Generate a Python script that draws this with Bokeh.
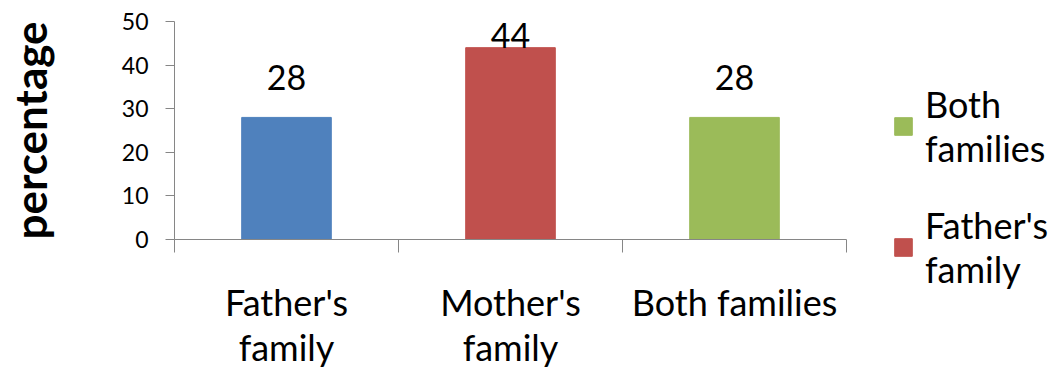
from bokeh.plotting import figure
from bokeh.models import Range1d, FixedTicker, Legend, LegendItem, ColumnDataSource
from bokeh.core.properties import value
from bokeh.embed import file_html
from bokeh.resources import INLINE

categories = ["Father's family", "Mother's family", "Both families"]
tick_labels = ["Father's\nfamily", "Mother's\nfamily", "Both families"]
percentages = [28, 44, 28]
bar_colors = ["#4F81BD", "#C0504D", "#9BBB59"]
legend_labels = ["Both\nfamilies", "Father's\nfamily"]
legend_rows = [2, 1]
y_ticks = [0, 10, 20, 30, 40, 50]
y_title = "percentage"

FONT = "Lato"
n = len(categories)
positions = list(range(n))
boundaries = [i - 0.5 for i in range(n + 1)]
label_y = [min(v + 6.2, 44.0) for v in percentages]

src = ColumnDataSource(dict(x=positions, top=percentages, color=bar_colors,
                            ly=label_y, txt=[str(v) for v in percentages]))

p = figure(frame_width=672, frame_height=218, x_range=Range1d(-0.5, n - 0.5), y_range=Range1d(0, 50),
           output_backend="svg", toolbar_location=None,
           min_border_left=173, min_border_right=10, min_border_top=21, min_border_bottom=131)
p.outline_line_color = None
p.xgrid.visible = False
p.ygrid.visible = False

bars = p.vbar(x="x", top="top", width=0.4, color="color", source=src)
p.text(x="x", y="ly", text="txt", source=src, text_align="center", text_baseline="bottom",
       text_font=value(FONT), text_font_size="34px", text_color="#000000")

ax = p.xaxis[0]
ax.ticker = FixedTicker(ticks=positions, minor_ticks=boundaries)
ax.major_label_overrides = {i: t for i, t in zip(positions, tick_labels)}
ax.major_tick_out = 0
ax.major_tick_in = 0
ax.minor_tick_out = 13
ax.minor_tick_in = 0
ax.axis_line_color = "#868686"
ax.minor_tick_line_color = "#868686"
ax.major_label_text_font = FONT
ax.major_label_text_font_size = "36px"
ax.major_label_text_color = "#000000"
ax.major_label_text_line_height = 1.04
ax.major_label_standoff = 27

ay = p.yaxis[0]
ay.ticker = FixedTicker(ticks=y_ticks)
ay.major_tick_out = 9
ay.major_tick_in = 0
ay.minor_tick_line_color = None
ay.axis_line_color = "#868686"
ay.major_tick_line_color = "#868686"
ay.major_label_text_font = FONT
ay.major_label_text_font_size = "23px"
ay.major_label_text_color = "#000000"
ay.major_label_standoff = 17
ay.axis_label = y_title
ay.axis_label_text_font = FONT
ay.axis_label_text_font_style = "bold"
ay.axis_label_text_font_size = "44px"
ay.axis_label_text_color = "#000000"
ay.axis_label_standoff = 63

items = [LegendItem(label=lab, renderers=[bars], index=r) for lab, r in zip(legend_labels, legend_rows)]
legend = Legend(items=items, location=(46, -52), border_line_color=None,
                background_fill_alpha=0, label_text_font=FONT, label_text_font_size="36px",
                label_text_color="#000000",
                label_text_line_height=1.3, glyph_width=22, glyph_height=22,
                label_standoff=11, spacing=33, margin=0, padding=0)
p.add_layout(legend, "right")

open("out.html", "w").write(file_html(p, INLINE))
